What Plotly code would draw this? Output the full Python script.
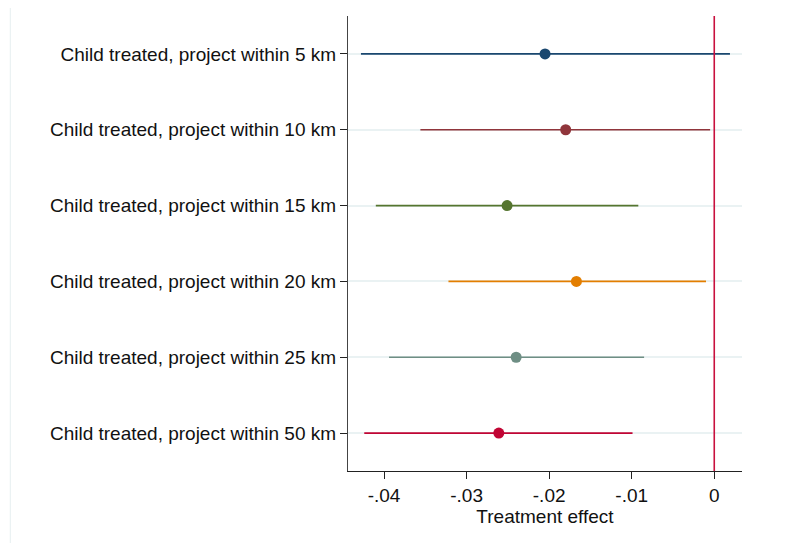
import plotly.graph_objects as go

categories = [
    "Child treated, project within 5 km",
    "Child treated, project within 10 km",
    "Child treated, project within 15 km",
    "Child treated, project within 20 km",
    "Child treated, project within 25 km",
    "Child treated, project within 50 km",
]
estimates = [-0.0205, -0.0180, -0.0251, -0.0167, -0.0240, -0.0261]
ci_low = [-0.0428, -0.0356, -0.0410, -0.0322, -0.0394, -0.0424]
ci_high = [0.0019, -0.0005, -0.0092, -0.0010, -0.0085, -0.0099]
colors = ["#1a476f", "#90353b", "#55752f", "#e37e00", "#6e8e84", "#c10534"]
xtick_vals = [-0.04, -0.03, -0.02, -0.01, 0]
xtick_text = ["-.04", "-.03", "-.02", "-.01", "0"]

FONT = "Liberation Sans, Arial, sans-serif"
FS = 19

fig = go.Figure()
for cat, est, lo, hi, col in zip(categories, estimates, ci_low, ci_high, colors):
    fig.add_trace(go.Scatter(
        x=[est], y=[cat], mode="markers",
        marker=dict(color=col, size=11),
        error_x=dict(type="data", symmetric=False,
                     array=[hi - est], arrayminus=[est - lo],
                     color=col, thickness=1.6, width=0),
        showlegend=False,
    ))

fig.add_shape(type="line", xref="x", yref="paper", x0=0, x1=0, y0=0, y1=1,
              line=dict(color="#c8103e", width=1.6), layer="above")
# faint outer region border on the left
fig.add_shape(type="line", xref="paper", yref="paper", x0=-0.857, x1=-0.857,
              y0=-0.2, y1=1.04, line=dict(color="#eaf2f3", width=1.2))

fig.update_layout(
    width=782, height=535,
    margin=dict(l=340, r=48, t=8, b=72),
    paper_bgcolor="white", plot_bgcolor="white",
    font=dict(family=FONT, size=FS, color="#111111"),
    xaxis=dict(
        range=[-0.04437, 0.00336],
        tickvals=xtick_vals, ticktext=xtick_text,
        showgrid=False, zeroline=False,
        showline=True, linecolor="#222222", linewidth=1.2,
        ticks="outside", ticklen=7, tickcolor="#222222", tickwidth=1.2,
        title=dict(text="Treatment effect", standoff=0, font=dict(size=FS)),
        tickfont=dict(size=FS),
    ),
    yaxis=dict(
        type="category", categoryorder="array", categoryarray=categories,
        range=[5.5, -0.5],
        showgrid=True, gridcolor="#eaf2f3", gridwidth=1.5,
        zeroline=False,
        showline=True, linecolor="#444444", linewidth=1.2,
        ticks="outside", ticklen=7, tickcolor="#222222", tickwidth=1.2,
        tickfont=dict(size=FS),
    ),
)

fig.write_html("out.html")
